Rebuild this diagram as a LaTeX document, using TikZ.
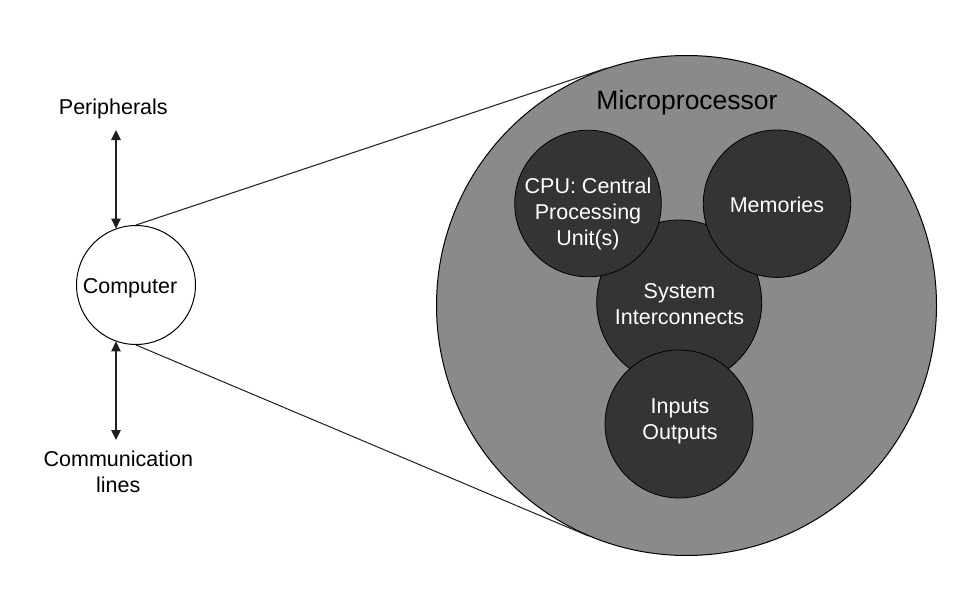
\documentclass[tikz,border=0pt]{standalone}
\usepackage{fontspec}
\setmainfont{Liberation Sans}
\usetikzlibrary{calc,arrows.meta}
\definecolor{bigfill}{RGB}{138,138,138}
\definecolor{innerfill}{RGB}{52,52,55}
\definecolor{linegray}{RGB}{30,30,30}
\begin{document}
\begin{tikzpicture}[x=1pt,y=-1pt,
  lbl/.style={font=\fontsize{21.5}{26}\selectfont, align=center, inner sep=0pt},
  intext/.style={lbl, text=white},
  innercirc/.style={circle, draw=black, line width=0.8pt, fill=innerfill, inner sep=0pt},
  arr/.style={line width=1.1pt, draw=linegray, {Triangle[length=10pt,width=9.5pt]}-{Triangle[length=10pt,width=9.5pt]}},
  tline/.style={line width=1pt, draw=linegray}]
\useasboundingbox (0,0) rectangle (962,602);

% big microprocessor circle
\node[circle, draw=black, line width=1pt, fill=bigfill, minimum size=500pt, inner sep=0pt] (mp) at (686.5,305.5) {};
\node[font=\fontsize{26.5}{30}\selectfont, inner sep=0pt] (mpT) at (687,103) {Microprocessor};

% computer circle
\node[circle, draw=black, line width=1pt, fill=white, minimum size=119pt, inner sep=0pt] (comp) at (136,285) {};
\node[lbl] (compT) at (130,288) {Computer};

% tangent lines
\draw[tline] (comp.north) -- (tangent cs:node=mp,point={(comp.north)},solution=2);
\draw[tline] (comp.south) -- (tangent cs:node=mp,point={(comp.south)},solution=1);

% inner circles
\node[innercirc, minimum size=165pt] (sys) at (679.2,302.5) {};
\node[innercirc, minimum size=146.6pt] (cpu) at (588,203.5) {};
\node[innercirc, minimum size=147.4pt] (mem) at (777,203.7) {};
\node[innercirc, minimum size=148pt] (io) at (679,424) {};

\node[intext] (cpuT) at (588,214) {CPU: Central\\Processing\\Unit(s)};
\node[intext] (memT) at (777,205) {Memories};
\node[intext] (sysT) at (679.5,304.5) {System\\Interconnects};
\node[intext] (ioT) at (680,421) {Inputs\\Outputs};

% peripherals and communication lines
\node[lbl] (per) at (113.3,108.7) {Peripherals};
\node[lbl] (com) at (118.3,471.8) {Communication\\lines};
\coordinate (ptop) at (116,130);
\coordinate (pbot) at (116,440);
\draw[arr] (ptop) -- (ptop |- comp.110);
\draw[arr] (pbot |- comp.250) -- (pbot);
\end{tikzpicture}
\end{document}
